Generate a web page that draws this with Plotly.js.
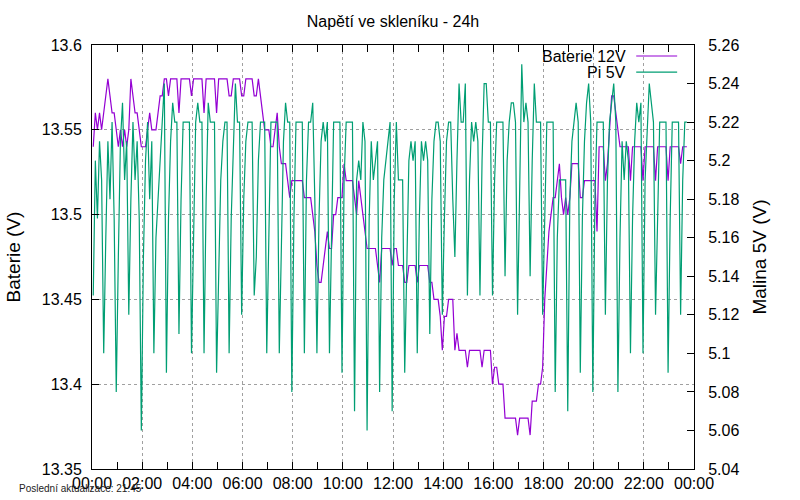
<!DOCTYPE html>
<html>
<head>
<meta charset="utf-8">
<script src="https://cdn.plot.ly/plotly-3.0.1.min.js"></script>
<style>
  html, body { margin: 0; padding: 0; background: #fff; }
  #chart { width: 800px; height: 500px; }
</style>
</head>
<body>
<div id="chart"></div>
<script>
// Napětí ve skleníku: readings every 5 minutes from 00:03
const DAY = "2024-01-01";
const FIRST_MIN = 3;
const STEP_MIN = 5;

// Baterie 12V (left axis), one row per hour
const baterie12V = [
  13.54, 13.56, 13.55, 13.56, 13.55, 13.56, 13.57, 13.58, 13.57, 13.56, 13.56, 13.55,
  13.54, 13.55, 13.54, 13.55, 13.54, 13.55, 13.58, 13.57, 13.56, 13.56, 13.55, 13.54,
  13.54, 13.54, 13.55, 13.56, 13.55, 13.55, 13.55, 13.56, 13.57, 13.57, 13.58, 13.58,
  13.57, 13.58, 13.58, 13.58, 13.58, 13.56, 13.58, 13.58, 13.58, 13.58, 13.58, 13.57,
  13.58, 13.58, 13.58, 13.58, 13.58, 13.56, 13.58, 13.58, 13.58, 13.58, 13.58, 13.56,
  13.58, 13.58, 13.58, 13.58, 13.58, 13.57, 13.57, 13.58, 13.58, 13.58, 13.58, 13.57,
  13.57, 13.58, 13.58, 13.58, 13.58, 13.57, 13.57, 13.58, 13.57, 13.56, 13.55, 13.55,
  13.55, 13.54, 13.54, 13.55, 13.56, 13.54, 13.53, 13.53, 13.53, 13.52, 13.51, 13.52,
  13.52, 13.52, 13.52, 13.52, 13.52, 13.51, 13.51, 13.51, 13.51, 13.50, 13.49, 13.47,
  13.46, 13.46, 13.47, 13.48, 13.49, 13.48, 13.48, 13.50, 13.50, 13.51, 13.51, 13.51,
  13.53, 13.52, 13.52, 13.52, 13.52, 13.51, 13.50, 13.52, 13.51, 13.50, 13.49, 13.48,
  13.48, 13.48, 13.48, 13.48, 13.47, 13.46, 13.48, 13.48, 13.48, 13.48, 13.48, 13.47,
  13.48, 13.48, 13.47, 13.47, 13.47, 13.46, 13.46, 13.47, 13.47, 13.47, 13.47, 13.46,
  13.47, 13.47, 13.47, 13.47, 13.47, 13.46, 13.46, 13.45, 13.45, 13.45, 13.44, 13.42,
  13.44, 13.44, 13.45, 13.45, 13.45, 13.42, 13.43, 13.42, 13.42, 13.42, 13.42, 13.41,
  13.42, 13.42, 13.42, 13.42, 13.42, 13.42, 13.41, 13.42, 13.42, 13.42, 13.42, 13.40,
  13.41, 13.41, 13.40, 13.40, 13.40, 13.38, 13.38, 13.38, 13.38, 13.38, 13.38, 13.37,
  13.38, 13.38, 13.38, 13.38, 13.38, 13.37, 13.39, 13.39, 13.39, 13.40, 13.40, 13.41,
  13.45, 13.47, 13.49, 13.50, 13.51, 13.51, 13.52, 13.53, 13.51, 13.50, 13.51, 13.50,
  13.51, 13.53, 13.53, 13.53, 13.53, 13.51, 13.51, 13.52, 13.52, 13.52, 13.52, 13.52,
  13.52, 13.49, 13.54, 13.54, 13.54, 13.52, 13.53, 13.55, 13.57, 13.57, 13.56, 13.55,
  13.54, 13.54, 13.54, 13.54, 13.54, 13.52, 13.54, 13.54, 13.54, 13.54, 13.54, 13.52,
  13.54, 13.54, 13.54, 13.54, 13.54, 13.52, 13.54, 13.54, 13.54, 13.54, 13.54, 13.52,
  13.54, 13.54, 13.54, 13.54, 13.54, 13.53, 13.54, 13.54, 13.54,
];

// Pi 5V (right axis), one row per half hour
const pi5V = [
  5.13, 5.20, 5.17, 5.21, 5.19, 5.10,
  5.16, 5.21, 5.18, 5.22, 5.17, 5.08,
  5.15, 5.21, 5.23, 5.19, 5.21, 5.12,
  5.18, 5.22, 5.19, 5.21, 5.17, 5.06,
  5.15, 5.20, 5.22, 5.18, 5.21, 5.10,
  5.16, 5.18, 5.20, 5.22, 5.24, 5.09,
  5.17, 5.21, 5.23, 5.22, 5.22, 5.11,
  5.18, 5.22, 5.22, 5.22, 5.22, 5.10,
  5.17, 5.22, 5.23, 5.22, 5.22, 5.10,
  5.18, 5.23, 5.22, 5.22, 5.22, 5.09,
  5.15, 5.19, 5.21, 5.22, 5.22, 5.10,
  5.17, 5.21, 5.24, 5.22, 5.22, 5.12,
  5.18, 5.21, 5.22, 5.22, 5.22, 5.13,
  5.15, 5.20, 5.22, 5.22, 5.22, 5.10,
  5.17, 5.22, 5.22, 5.22, 5.22, 5.10,
  5.16, 5.21, 5.23, 5.22, 5.22, 5.08,
  5.17, 5.22, 5.22, 5.22, 5.22, 5.10,
  5.19, 5.22, 5.22, 5.23, 5.18, 5.10,
  5.17, 5.21, 5.22, 5.21, 5.22, 5.10,
  5.16, 5.22, 5.22, 5.22, 5.22, 5.09,
  5.19, 5.22, 5.22, 5.22, 5.22, 5.07,
  5.19, 5.20, 5.19, 5.22, 5.21, 5.06,
  5.17, 5.21, 5.19, 5.20, 5.21, 5.08,
  5.16, 5.19, 5.20, 5.21, 5.22, 5.07,
  5.18, 5.22, 5.19, 5.19, 5.19, 5.09,
  5.15, 5.20, 5.21, 5.20, 5.21, 5.10,
  5.17, 5.21, 5.20, 5.21, 5.20, 5.11,
  5.18, 5.21, 5.22, 5.22, 5.21, 5.12,
  5.17, 5.21, 5.22, 5.22, 5.18, 5.15,
  5.20, 5.24, 5.22, 5.22, 5.24, 5.13,
  5.19, 5.22, 5.21, 5.22, 5.21, 5.13,
  5.20, 5.24, 5.24, 5.22, 5.22, 5.13,
  5.19, 5.22, 5.22, 5.22, 5.22, 5.14,
  5.20, 5.22, 5.23, 5.23, 5.22, 5.12,
  5.19, 5.25, 5.22, 5.23, 5.22, 5.14,
  5.20, 5.24, 5.22, 5.22, 5.22, 5.12,
  5.18, 5.22, 5.22, 5.22, 5.22, 5.08,
  5.16, 5.19, 5.19, 5.19, 5.19, 5.07,
  5.18, 5.21, 5.22, 5.23, 5.22, 5.09,
  5.17, 5.21, 5.23, 5.24, 5.22, 5.08,
  5.18, 5.22, 5.22, 5.22, 5.22, 5.12,
  5.19, 5.22, 5.23, 5.24, 5.22, 5.08,
  5.16, 5.21, 5.19, 5.21, 5.20, 5.10,
  5.17, 5.21, 5.23, 5.22, 5.23, 5.10,
  5.19, 5.22, 5.24, 5.23, 5.22, 5.12,
  5.18, 5.22, 5.22, 5.22, 5.22, 5.09,
  5.17, 5.22, 5.22, 5.22, 5.22, 5.12,
  5.19, 5.22, 5.22,
];

const LAST_UPDATE = "Poslední aktualizace: 21:45";

const COLORS = { baterie: "#9400d3", pi: "#009e73" };
const FONT = "Liberation Sans, Arial, sans-serif";
const GRID = "#a0a0a0";

const times = baterie12V.map((_, i) => {
  const m = FIRST_MIN + i * STEP_MIN;
  const hh = String(Math.floor(m / 60)).padStart(2, "0");
  const mm = String(m % 60).padStart(2, "0");
  return `${DAY} ${hh}:${mm}`;
});

const traces = [
  {
    type: "scatter", mode: "lines", name: "Baterie 12V",
    x: times, y: baterie12V,
    line: { color: COLORS.baterie, width: 1.2 },
  },
  {
    type: "scatter", mode: "lines", name: "Pi 5V",
    x: times, y: pi5V, yaxis: "y2",
    line: { color: COLORS.pi, width: 1.2 },
  },
];

// gnuplot-style key: text on the left, line sample on the right
const keyRows = [
  { label: "Baterie 12V", color: COLORS.baterie, y: 0.974 },
  { label: "Pi 5V", color: COLORS.pi, y: 0.936 },
];

const layout = {
  width: 800, height: 500,
  margin: { l: 92, r: 106, t: 45, b: 31 },
  paper_bgcolor: "#fff", plot_bgcolor: "#fff",
  font: { family: FONT, size: 16, color: "#000" },
  showlegend: false,
  title: {
    text: "Napětí ve skleníku - 24h",
    font: { size: 16 },
    x: 0.5, xref: "paper", xanchor: "center",
    y: 1 - 21.5 / 500, yref: "container", yanchor: "middle",
  },
  xaxis: {
    type: "date",
    range: [`${DAY} 00:00`, "2024-01-02 00:00"],
    tick0: `${DAY} 00:00`, dtick: 2 * 3600 * 1000,
    tickformat: "%H:%M",
    ticks: "inside", ticklen: 7, tickcolor: "#000",
    showline: true, linecolor: "#000", linewidth: 1, mirror: "allticks",
    showgrid: true, gridcolor: GRID, griddash: "dot", gridwidth: 1,
    minor: { dtick: 3600 * 1000, ticks: "inside", ticklen: 4, tickcolor: "#000", showgrid: false },
    zeroline: false,
  },
  yaxis: {
    range: [13.35, 13.6], tick0: 13.35, dtick: 0.05,
    ticks: "inside", ticklen: 7, tickcolor: "#000",
    showline: true, linecolor: "#000", linewidth: 1,
    showgrid: true, gridcolor: GRID, griddash: "dot", gridwidth: 1,
    zeroline: false,
    ticklabelstandoff: 6,
    title: { text: "Baterie (V)", standoff: 16 },
  },
  yaxis2: {
    overlaying: "y", side: "right",
    range: [5.04, 5.26], tick0: 5.04, dtick: 0.02,
    ticks: "inside", ticklen: 7, tickcolor: "#000",
    showline: true, linecolor: "#000", linewidth: 1,
    showgrid: false, zeroline: false,
    ticklabelstandoff: 10,
    title: { text: "Malina 5V (V)", standoff: 14 },
  },
  annotations: [
    ...keyRows.map((r) => ({
      xref: "paper", yref: "paper", x: 0.890, y: r.y,
      xanchor: "right", yanchor: "middle",
      text: r.label, showarrow: false,
    })),
    {
      xref: "paper", yref: "paper", x: -0.1246, y: -0.047,
      xanchor: "left", yanchor: "middle",
      text: LAST_UPDATE, showarrow: false,
      font: { size: 10, color: "#222" },
    },
  ],
  shapes: keyRows.map((r) => ({
    type: "line", xref: "paper", yref: "paper",
    x0: 0.904, x1: 0.972, y0: r.y, y1: r.y,
    line: { color: r.color, width: 1.2 },
  })),
};

Plotly.newPlot("chart", traces, layout, { displayModeBar: false, responsive: false });
</script>
</body>
</html>
